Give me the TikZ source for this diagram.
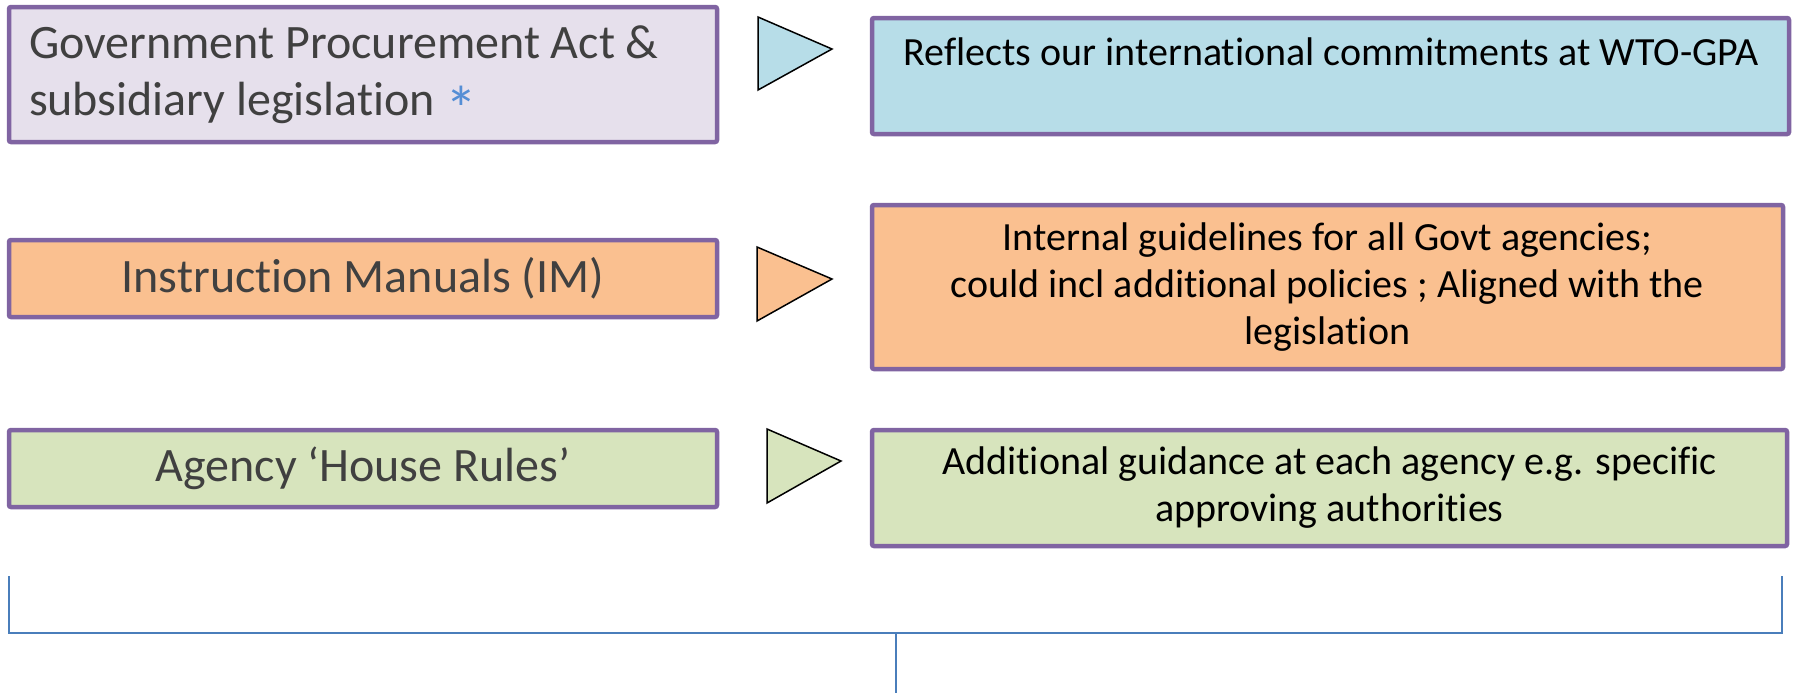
\documentclass[tikz,border=0pt]{standalone}
\usepackage{fontspec}
\setmainfont{Carlito}[Ligatures={NoCommon}]
\definecolor{bord}{HTML}{8064A2}
\definecolor{lav}{HTML}{E6E0EC}
\definecolor{skyb}{HTML}{B7DDE8}
\definecolor{orng}{HTML}{FAC090}
\definecolor{grn}{HTML}{D7E4BD}
\definecolor{txtgray}{HTML}{404040}
\definecolor{starblue}{HTML}{558ED5}
\definecolor{brk}{HTML}{4A7EBB}
\begin{document}
\begin{tikzpicture}[x=0.5pt,y=-0.5pt,
  boxstyle/.style={draw=bord, line width=2.25pt, rounded corners=1pt, inner sep=0pt, outer sep=0pt},
  lefttext/.style={font=\fontsize{24}{28.5}\selectfont, text=txtgray},
  righttext/.style={font=\fontsize{20}{23.5}\selectfont, text=black, align=center},
  tristyle/.style={draw=black, line width=0.75pt, line join=miter},
  brkline/.style={draw=brk, line width=1pt}]
\useasboundingbox (0,0) rectangle (1793,693);
% left column
\node[boxstyle, lefttext, fill=lav, minimum width=354pt, minimum height=67.5pt,
      text width=334pt, inner xsep=10pt, align=flush left] (gpa) at (363,74.5)
  {Government Procurement Act \&\\subsidiary legislation {\color{starblue}\raisebox{-8pt}[0pt][0pt]{\fontsize{32}{32}\selectfont *}}};
\node[boxstyle, lefttext, fill=orng, minimum width=354pt, minimum height=38.5pt, align=center] (im) at (363,278.5)
  {Instruction Manuals (IM)};
\node[boxstyle, lefttext, fill=grn, minimum width=354pt, minimum height=38.5pt, align=center] (hr) at (363,468.5)
  {Agency ‘House Rules’};
% right column
\node[boxstyle, fill=skyb, minimum width=458.5pt, minimum height=58pt] (rb1) at (1330.5,76) {};
\node[righttext, anchor=base, inner sep=0pt] (rb1t) at (1331,65)
  {Reflects our international commitments at WTO-GPA};
\node[boxstyle, righttext, fill=orng, minimum width=455.5pt, minimum height=82pt] (rb2) at (1327.5,287)
  {Internal guidelines for all Govt agencies;\\could incl additional policies ; Aligned with the\\legislation};
\node[boxstyle, righttext, fill=grn, minimum width=457.5pt, minimum height=58pt] (rb3) at (1329.5,488)
  {Additional guidance at each agency e.g. specific\\approving authorities};
% triangles
\draw[tristyle, fill=skyb] (758,17) -- (758,90) -- (832,49) -- cycle;
\draw[tristyle, fill=orng] (757,247) -- (757,321) -- (832,279) -- cycle;
\draw[tristyle, fill=grn] (767,429) -- (767,503) -- (841,461) -- cycle;
% bracket
\coordinate (bl) at (9,576);
\coordinate (blc) at (9,633);
\coordinate (brc) at (1782,633);
\coordinate (br) at (1782,576);
\coordinate (sm) at (895.5,633);
\coordinate (se) at (895.5,693);
\draw[brkline] (bl) -- (blc) -- (brc) -- (br);
\draw[brkline] (sm) -- (se);
\end{tikzpicture}
\end{document}
